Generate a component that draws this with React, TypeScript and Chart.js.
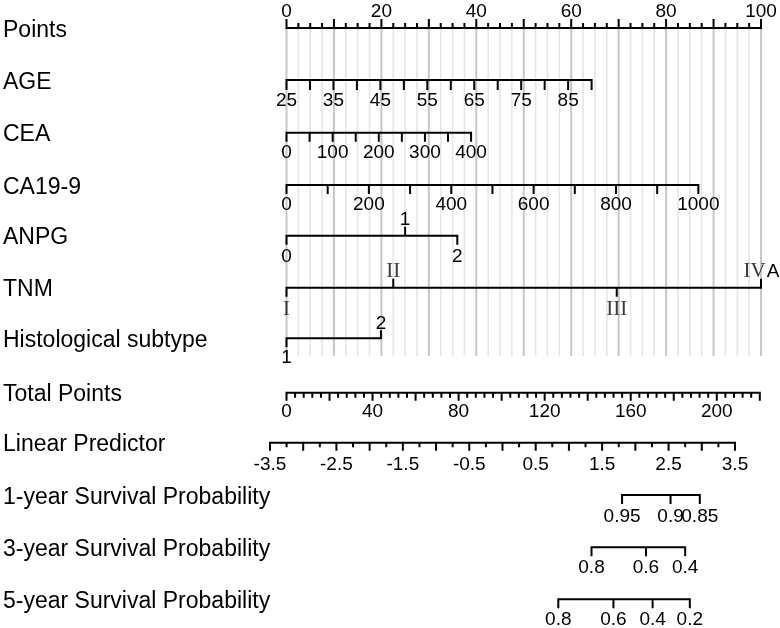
import React, { useEffect, useRef } from "react";
import { Chart, registerables } from "chart.js";
Chart.register(...registerables);

// ---------------- data ----------------
const rowTitles = [
  "Points",
  "AGE",
  "CEA",
  "CA19-9",
  "ANPG",
  "TNM",
  "Histological subtype",
  "Total Points",
  "Linear Predictor",
  "1-year Survival Probability",
  "3-year Survival Probability",
  "5-year Survival Probability",
];

const pointsMajor = [0, 10, 20, 30, 40, 50, 60, 70, 80, 90, 100];
const pointsLabels = [0, 20, 40, 60, 80, 100];
const pointsMinorStep = 2.5;

const ageTicks = [25, 30, 35, 40, 45, 50, 55, 60, 65, 70, 75, 80, 85, 90];
const ageLabels = [25, 35, 45, 55, 65, 75, 85];
const agePointsAtMax = 64.3; // points given at age 90

const ceaTicks = [0, 50, 100, 150, 200, 250, 300, 350, 400];
const ceaLabels = [0, 100, 200, 300, 400];
const ceaPointsAtMax = 38.9; // points at CEA 400

const ca199Ticks = [0, 100, 200, 300, 400, 500, 600, 700, 800, 900, 1000];
const ca199Labels = [0, 200, 400, 600, 800, 1000];
const ca199PointsAtMax = 86.8; // points at CA19-9 1000

const anpgLevels = ["0", "1", "2"];
const anpgPoints = [0, 25.0, 36.0];

const tnmLevels = ["I", "II", "III", "IV"];
const tnmSuffix = ["", "", "", "A"];
const tnmPoints = [0, 22.5, 69.6, 100];

const histLevels = ["1", "2"];
const histPoints = [0, 19.9];

const totalMax = 220;
const totalMinorStep = 4;
const totalMajorStep = 20;
const totalLabels = [0, 40, 80, 120, 160, 200];
const totalPointsAtMax = 99.75;

const lpMin = -3.5;
const lpMax = 3.5;
const lpMinorStep = 0.25;
const lpMajorStep = 0.5;
const lpLabels = [-3.5, -2.5, -1.5, -0.5, 0.5, 1.5, 2.5, 3.5];
const lpPointsAtMin = -3.48;
const lpPointsAtMax = 94.52;

const surv1Labels = ["0.95", "0.9", "0.85"];
const surv1LP = [1.8, 2.53, 2.97];
const surv3Labels = ["0.8", "0.6", "0.4"];
const surv3LP = [1.34, 2.16, 2.75];
const surv5Labels = ["0.8", "0.6", "0.4", "0.2"];
const surv5LP = [0.84, 1.67, 2.26, 2.82];

// ---------------- layout ----------------
const W = 780;
const H = 628;
const ZERO_PX = 286.5;
const PX_PER_POINT = 4.745;
const X_MIN = -ZERO_PX / PX_PER_POINT;
const X_MAX = (W - ZERO_PX) / PX_PER_POINT;
const rowY = [28, 80, 132.7, 185, 235.7, 287.7, 338.3, 392.7, 442.7, 495, 547.3, 599.3];
const GRID_BOTTOM = 356;
const TITLE_FONT = "23px 'Liberation Sans', Arial, sans-serif";
const TICK_FONT = "19px 'Liberation Sans', Arial, sans-serif";
const ROMAN_FONT = "21px 'Liberation Serif', 'Times New Roman', serif";

type Tick = { p: number; len: number; up?: boolean };
type Lab = { p: number; text: string; y: number; suffix?: string; roman?: boolean };
type Axis = { y: number; ticks: Tick[]; labels: Lab[] };

const range = (a: number, b: number, s: number) => {
  const out: number[] = [];
  for (let i = 0; a + i * s <= b + 1e-9; i++) out.push(+(a + i * s).toFixed(6));
  return out;
};

const agePts = (v: number) => ((v - 25) / (90 - 25)) * agePointsAtMax;
const ceaPts = (v: number) => (v / 400) * ceaPointsAtMax;
const ca199Pts = (v: number) => (v / 1000) * ca199PointsAtMax;
const totalPts = (v: number) => (v / totalMax) * totalPointsAtMax;
const lpPts = (v: number) =>
  lpPointsAtMin + ((v - lpMin) / (lpMax - lpMin)) * (lpPointsAtMax - lpPointsAtMin);

function buildAxes(): Axis[] {
  const axes: Axis[] = [];
  // Points
  axes.push({
    y: rowY[0],
    ticks: range(0, 100, pointsMinorStep).map((p) => ({
      p,
      len: pointsMajor.includes(p) ? 8 : 4,
      up: true,
    })),
    labels: pointsLabels.map((v) => ({ p: v, text: String(v), y: 16.5 })),
  });
  // AGE
  axes.push({
    y: rowY[1],
    ticks: ageTicks.map((v) => ({ p: agePts(v), len: 9 })),
    labels: ageLabels.map((v) => ({ p: agePts(v), text: String(v), y: 106 })),
  });
  // CEA
  axes.push({
    y: rowY[2],
    ticks: ceaTicks.map((v) => ({ p: ceaPts(v), len: 8 })),
    labels: ceaLabels.map((v) => ({ p: ceaPts(v), text: String(v), y: 158 })),
  });
  // CA19-9
  axes.push({
    y: rowY[3],
    ticks: ca199Ticks.map((v) => ({ p: ca199Pts(v), len: 8 })),
    labels: ca199Labels.map((v) => ({ p: ca199Pts(v), text: String(v), y: 210 })),
  });
  // ANPG
  axes.push({
    y: rowY[4],
    ticks: anpgLevels.map((_, i) => ({ p: anpgPoints[i], len: 8, up: i % 2 === 1 })),
    labels: anpgLevels.map((t, i) => ({
      p: anpgPoints[i],
      text: t,
      y: i % 2 === 1 ? 225 : 261.7,
    })),
  });
  // TNM
  axes.push({
    y: rowY[5],
    ticks: tnmLevels.map((_, i) => ({ p: tnmPoints[i], len: 8, up: i % 2 === 1 })),
    labels: tnmLevels.map((t, i) => ({
      p: tnmPoints[i],
      text: t,
      suffix: tnmSuffix[i],
      roman: true,
      y: i % 2 === 1 ? 277 : 315,
    })),
  });
  // Histological subtype
  axes.push({
    y: rowY[6],
    ticks: histLevels.map((_, i) => ({ p: histPoints[i], len: i % 2 === 1 ? 7 : 8, up: i % 2 === 1 })),
    labels: histLevels.map((t, i) => ({
      p: histPoints[i],
      text: t,
      y: i % 2 === 1 ? 329 : 363,
    })),
  });
  // Total Points
  axes.push({
    y: rowY[7],
    ticks: range(0, totalMax, totalMinorStep).map((v) => ({
      p: totalPts(v),
      len: Math.abs(v / totalMajorStep - Math.round(v / totalMajorStep)) < 1e-6 ? 7 : 4,
    })),
    labels: totalLabels.map((v) => ({ p: totalPts(v), text: String(v), y: 416.7 })),
  });
  // Linear Predictor
  axes.push({
    y: rowY[8],
    ticks: range(lpMin, lpMax, lpMinorStep).map((v) => ({
      p: lpPts(v),
      len: Math.abs(v / lpMajorStep - Math.round(v / lpMajorStep)) < 1e-6 ? 7 : 3.5,
    })),
    labels: lpLabels.map((v) => ({ p: lpPts(v), text: v.toFixed(1), y: 470 })),
  });
  // Survival probabilities
  const surv: [string[], number[], number, number][] = [
    [surv1Labels, surv1LP, rowY[9], 521.7],
    [surv3Labels, surv3LP, rowY[10], 573],
    [surv5Labels, surv5LP, rowY[11], 625],
  ];
  surv.forEach(([labs, lps, y, ly]) => {
    axes.push({
      y,
      ticks: lps.map((v) => ({ p: lpPts(v), len: 8 })),
      labels: lps.map((v, i) => ({ p: lpPts(v), text: labs[i], y: ly })),
    });
  });
  return axes;
}

const AXES = buildAxes();

function axisData() {
  const data: { x: number; y: number | null }[] = [];
  AXES.forEach((a) => {
    const ps = a.ticks.map((t) => t.p);
    const lo = Math.min(...ps);
    const hi = Math.max(...ps);
    data.push({ x: lo, y: a.y }, { x: hi, y: a.y }, { x: hi, y: null });
    a.ticks.forEach((t) => {
      data.push({ x: t.p, y: a.y }, { x: t.p, y: a.y + (t.up ? -t.len : t.len) }, { x: t.p, y: null });
    });
  });
  return data;
}

function gridData(major: boolean) {
  const data: { x: number; y: number | null }[] = [];
  range(0, 100, pointsMinorStep).forEach((p) => {
    const isMajor = pointsMajor.includes(p);
    if (isMajor !== major) return;
    data.push({ x: p, y: rowY[0] }, { x: p, y: GRID_BOTTOM }, { x: p, y: null });
  });
  return data;
}

const textPlugin = {
  id: "nomoText",
  afterDatasetsDraw(chart: any) {
    const ctx = chart.ctx as CanvasRenderingContext2D;
    const xs = chart.scales.x;
    const ys = chart.scales.y;
    ctx.save();
    ctx.fillStyle = "#000";
    ctx.textAlign = "left";
    ctx.textBaseline = "alphabetic";
    ctx.font = TITLE_FONT;
    rowTitles.forEach((t, i) => {
      ctx.fillText(t, 3, ys.getPixelForValue(rowY[i] + 8.5));
    });
    AXES.forEach((a) => {
      a.labels.forEach((l) => {
        const cx = xs.getPixelForValue(l.p);
        const by = ys.getPixelForValue(l.y);
        if (l.roman) {
          ctx.font = ROMAN_FONT;
          const w1 = ctx.measureText(l.text).width;
          ctx.font = TICK_FONT;
          const w2 = l.suffix ? ctx.measureText(l.suffix).width : 0;
          const x0 = cx - (w1 + w2) / 2;
          ctx.textAlign = "left";
          ctx.font = ROMAN_FONT;
          ctx.fillStyle = "#3a3a3a";
          ctx.fillText(l.text, x0, by);
          if (l.suffix) {
            ctx.font = TICK_FONT;
            ctx.fillStyle = "#000";
            ctx.fillText(l.suffix, x0 + w1 + 1, by);
          }
          ctx.fillStyle = "#000";
        } else {
          ctx.font = TICK_FONT;
          ctx.textAlign = "center";
          ctx.fillText(l.text, cx, by);
        }
      });
    });
    ctx.restore();
  },
};

export default function App() {
  const ref = useRef<HTMLCanvasElement | null>(null);
  useEffect(() => {
    document.body.style.margin = "0";
    const canvas = ref.current;
    if (!canvas) return;
    const common = {
      pointRadius: 0,
      pointHoverRadius: 0,
      tension: 0,
      fill: false,
      spanGaps: false,
      borderCapStyle: "square" as const,
      borderJoinStyle: "miter" as const,
    };
    const chart = new Chart(canvas, {
      type: "line",
      data: {
        datasets: [
          { ...common, label: "axes", data: axisData() as any, borderColor: "#000", borderWidth: 2, order: 0 },
          { ...common, label: "grid major", data: gridData(true) as any, borderColor: "#c8c8c8", borderWidth: 2, borderCapStyle: "butt", order: 5 },
          { ...common, label: "grid minor", data: gridData(false) as any, borderColor: "#e6e6e6", borderWidth: 1.6, borderCapStyle: "butt", order: 6 },
        ],
      },
      options: {
        responsive: false,
        maintainAspectRatio: false,
        devicePixelRatio: 1,
        animation: false,
        events: [],
        layout: { padding: 0 },
        plugins: { legend: { display: false }, tooltip: { enabled: false } },
        scales: {
          x: { type: "linear", min: X_MIN, max: X_MAX, display: false },
          y: { type: "linear", min: 0, max: H, reverse: true, display: false },
        },
      },
      plugins: [textPlugin],
    });
    return () => chart.destroy();
  }, []);
  return (
    <div style={{ width: W, height: H, background: "#fff" }}>
      <canvas ref={ref} width={W} height={H} style={{ display: "block" }} />
    </div>
  );
}
